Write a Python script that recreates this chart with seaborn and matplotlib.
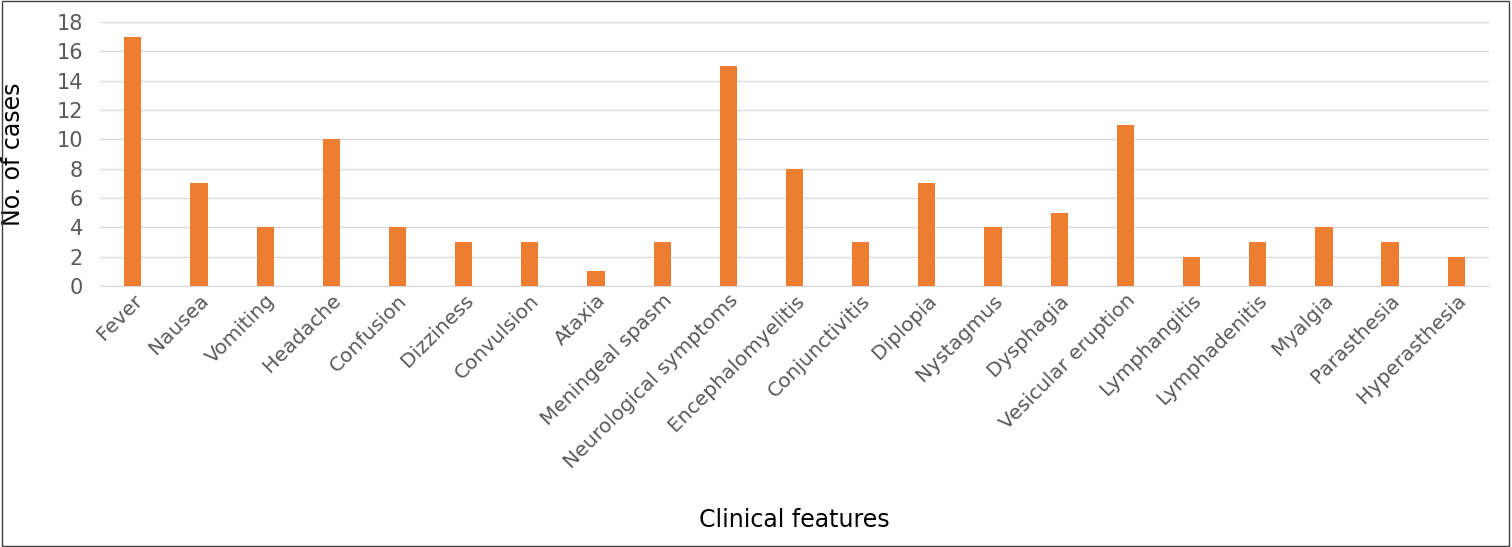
import matplotlib
matplotlib.use("Agg")
import matplotlib.pyplot as plt
import seaborn as sns
import pandas as pd

categories = ["Fever","Nausea","Vomiting","Headache","Confusion","Dizziness","Convulsion","Ataxia",
              "Meningeal spasm","Neurological symptoms","Encephalomyelitis","Conjunctivitis","Diplopia",
              "Nystagmus","Dysphagia","Vesicular eruption","Lymphangitis","Lymphadenitis","Myalgia",
              "Parasthesia","Hyperasthesia"]
cases = [17,7,4,10,4,3,3,1,3,15,8,3,7,4,5,11,2,3,4,3,2]
yticks = list(range(0,19,2))

df = pd.DataFrame({"feature": categories, "cases": cases})
fig = plt.figure(figsize=(15.12,5.47), dpi=100)
ax = fig.add_axes([0.066,0.477,0.919,0.483])
sns.barplot(data=df, x="feature", y="cases", color="#ED7D31", width=0.26, ax=ax, zorder=3, saturation=1)
ax.set_ylim(0,18)
ax.set_yticks(yticks)
ax.yaxis.grid(True, color="#D9D9D9", linewidth=1, zorder=0)
ax.set_axisbelow(True)
for s in ["top","right","left"]:
    ax.spines[s].set_visible(False)
ax.spines["bottom"].set_color("#D9D9D9")
ax.tick_params(axis="both", length=0, colors="#595959", labelsize=14.5)
ax.tick_params(axis="y", labelsize=15, pad=12)
plt.setp(ax.get_xticklabels(), rotation=45, ha="right", rotation_mode="anchor")
ax.set_xlim(-0.5, len(categories)-0.5)
ax.set_xlabel("Clinical features", fontsize=17, color="black")
ax.xaxis.set_label_coords(0.5, -0.84)
ax.set_ylabel("No. of cases", fontsize=17, color="black")
ax.yaxis.set_label_coords(-0.054, 0.5)
fig.patches.append(plt.Rectangle((0.001,0.002),0.997,0.996, transform=fig.transFigure,
                                 fill=False, edgecolor="#404040", linewidth=1))
fig.savefig("out.png", dpi=100)
